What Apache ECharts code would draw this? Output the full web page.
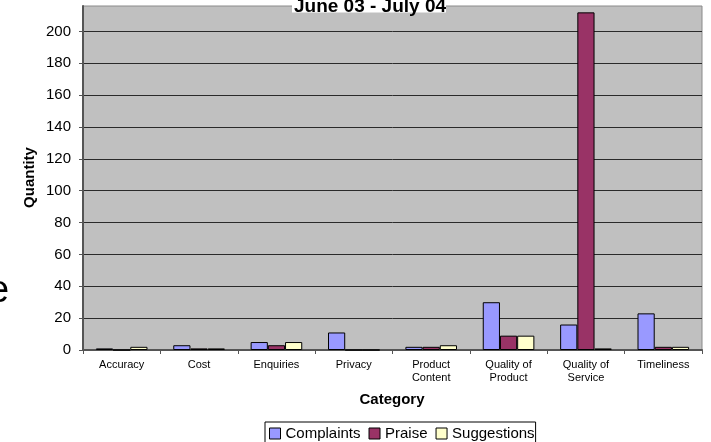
<!DOCTYPE html>
<html>
<head>
<meta charset="utf-8">
<script src="https://cdn.jsdelivr.net/npm/echarts@6/dist/echarts.min.js"></script>
<style>
  html, body { margin: 0; padding: 0; background: #ffffff; }
  #chart { width: 711px; height: 442px; }
</style>
</head>
<body>
<div id="chart"></div>
<script>
// Feedback counts per category, June 03 - July 04
const categories = ['Accuracy', 'Cost', 'Enquiries', 'Privacy', 'Product\nContent',
  'Quality of\nProduct', 'Quality of\nService', 'Timeliness'];
const complaints = [1, 3, 5, 11, 2, 30, 16, 23];
const praise = [0, 1, 3, 0, 2, 9, 212, 2];
const suggestions = [2, 1, 5, 0, 3, 9, 1, 2];
const seriesNames = ['Complaints', 'Praise', 'Suggestions'];
const yTicks = [0, 20, 40, 60, 80, 100, 120, 140, 160, 180, 200];

const FONT = '"Liberation Sans", Arial, sans-serif';
const colors = ['#9999FF', '#993366', '#FFFFCC'];

const chart = echarts.init(document.getElementById('chart'), null, { renderer: 'canvas' });

function barSeries(name, data, color) {
  return {
    name: name,
    type: 'bar',
    data: data,
    barGap: '0%',
    barCategoryGap: '33.3%',
    itemStyle: { color: color, borderColor: '#000000', borderWidth: 1 },
    emphasis: { disabled: true },
    animation: false
  };
}

chart.setOption({
  animation: false,
  textStyle: { fontFamily: FONT },
  grid: {
    left: 83, right: 9, top: 6, bottom: 92,
    show: true,
    backgroundColor: '#C0C0C0',
    borderColor: '#8a8a8a',
    borderWidth: 1
  },
  xAxis: {
    type: 'category',
    data: categories,
    boundaryGap: true,
    axisLine: { lineStyle: { color: '#555555', width: 2 } },
    axisTick: { show: true, alignWithLabel: false, length: 4, lineStyle: { color: '#555555', width: 1 } },
    axisLabel: {
      color: '#000000', fontSize: 11, fontFamily: FONT, margin: 8,
      lineHeight: 13, interval: 0
    },
    splitLine: { show: false }
  },
  yAxis: {
    type: 'value',
    min: 0,
    max: 216,
    interval: 20,
    axisLine: { show: true, lineStyle: { color: '#555555', width: 2 } },
    axisTick: { show: true, length: 4, customValues: yTicks, lineStyle: { color: '#555555' } },
    axisLabel: {
      color: '#000000', fontSize: 15, fontFamily: FONT, margin: 12,
      customValues: yTicks
    },
    splitLine: { show: true, lineStyle: { color: '#2a2a2a', width: 1 } }
  },
  legend: {
    data: seriesNames,
    orient: 'horizontal',
    left: 265,
    top: 422,
    padding: [4, 1, 8, 4],
    itemGap: 8,
    itemWidth: 11,
    itemHeight: 11,
    icon: 'rect',
    borderColor: '#000000',
    borderWidth: 1,
    backgroundColor: '#ffffff',
    itemStyle: { borderColor: '#000000', borderWidth: 1 },
    textStyle: { color: '#000000', fontSize: 15, fontFamily: FONT },
    selectedMode: false
  },
  series: [
    barSeries(seriesNames[0], complaints, colors[0]),
    barSeries(seriesNames[1], praise, colors[1]),
    barSeries(seriesNames[2], suggestions, colors[2])
  ],
  graphic: [
    {
      // white plate behind the title, over the plot's top edge
      type: 'rect', shape: { x: 292, y: 0, width: 154, height: 12.5 }, silent: true, z: 100,
      style: { fill: '#ffffff' }
    },
    {
      type: 'text', x: 370, y: 7, silent: true, z: 101,
      style: { text: 'June 03 - July 04', font: 'bold 19px ' + FONT, fill: '#000000',
        align: 'center', verticalAlign: 'middle' }
    },
    {
      type: 'text', x: 392, y: 400, silent: true,
      style: { text: 'Category', font: 'bold 15px ' + FONT, fill: '#000000',
        align: 'center', verticalAlign: 'middle' }
    },
    {
      type: 'text', x: 30, y: 177.5, rotation: Math.PI / 2, silent: true,
      style: { text: 'Quantity', font: 'bold 15px ' + FONT, fill: '#000000',
        align: 'center', verticalAlign: 'middle' }
    },
    {
      type: 'text', x: -12, y: 292, silent: true,
      style: { text: 'e', font: '38px ' + FONT, fill: '#000000',
        align: 'left', verticalAlign: 'middle' }
    }
  ]
});
</script>
</body>
</html>
